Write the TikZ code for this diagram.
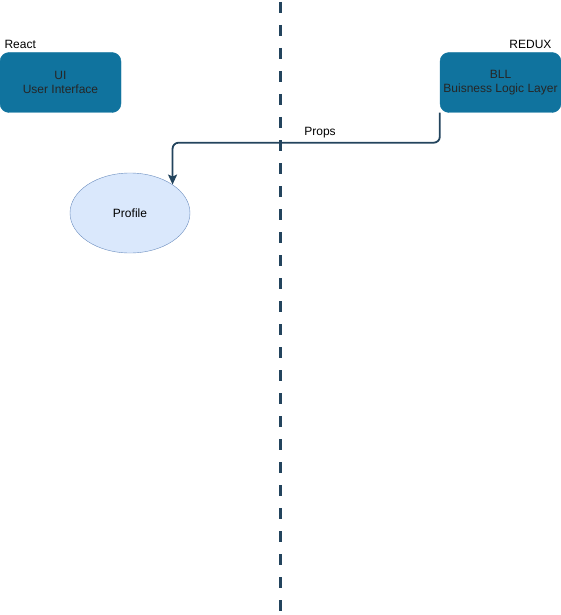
\documentclass[tikz,border=0pt]{standalone}
\usepackage{fontspec}
\setmainfont{Liberation Sans}
\usetikzlibrary{shapes.geometric,arrows.meta}
\definecolor{layerblue}{HTML}{10739E}
\definecolor{darknavy}{HTML}{23445D}
\definecolor{paleblue}{HTML}{DAE8FC}
\definecolor{edgeblue}{HTML}{6C8EBF}

\begin{document}
\begin{tikzpicture}[x=1pt,y=-1pt,font=\fontsize{12}{14}\selectfont,
	layerbox/.style={rectangle,rounded corners=9pt,fill=layerblue,draw=layerblue,
		minimum width=121pt,minimum height=60pt,inner sep=0pt,align=center,text=black!85},
	compo/.style={ellipse,fill=paleblue,draw=edgeblue,minimum width=120pt,
		minimum height=80pt,inner sep=0pt},
	divider/.style={darknavy,line width=3pt,dash pattern=on 11pt off 12pt,dash phase=-2pt},
	propsline/.style={darknavy,line width=1.8pt,rounded corners=6pt,
		-{Stealth[length=10pt,width=9pt,inset=2pt]}}]
		
		\useasboundingbox (0,0) rectangle (561,615);
		
		% dividing line
		\coordinate (divtop) at (280,0);
		\coordinate (divbot) at (280,615);
		\draw[divider] (divtop) -- (divbot);
		
		% layers
		\node[layerbox] (ui) at (60.5,82.5) {UI\\User Interface};
		\node[layerbox] (bll) at (500.5,82.5) {BLL\\Buisness Logic Layer};
		\node[anchor=west] (react) at (1,44) {React};
		\node[anchor=east] (redux) at (555,44) {REDUX};
		
		% component
		\node[compo] (profile) at (130,213) {Profile};
		
		% props
		\draw[propsline] (bll.south west) -- ++(0,30) -| (profile.north east);
		\node (props) at (320,132.5) {Props};
		\end{tikzpicture}
\end{document}
